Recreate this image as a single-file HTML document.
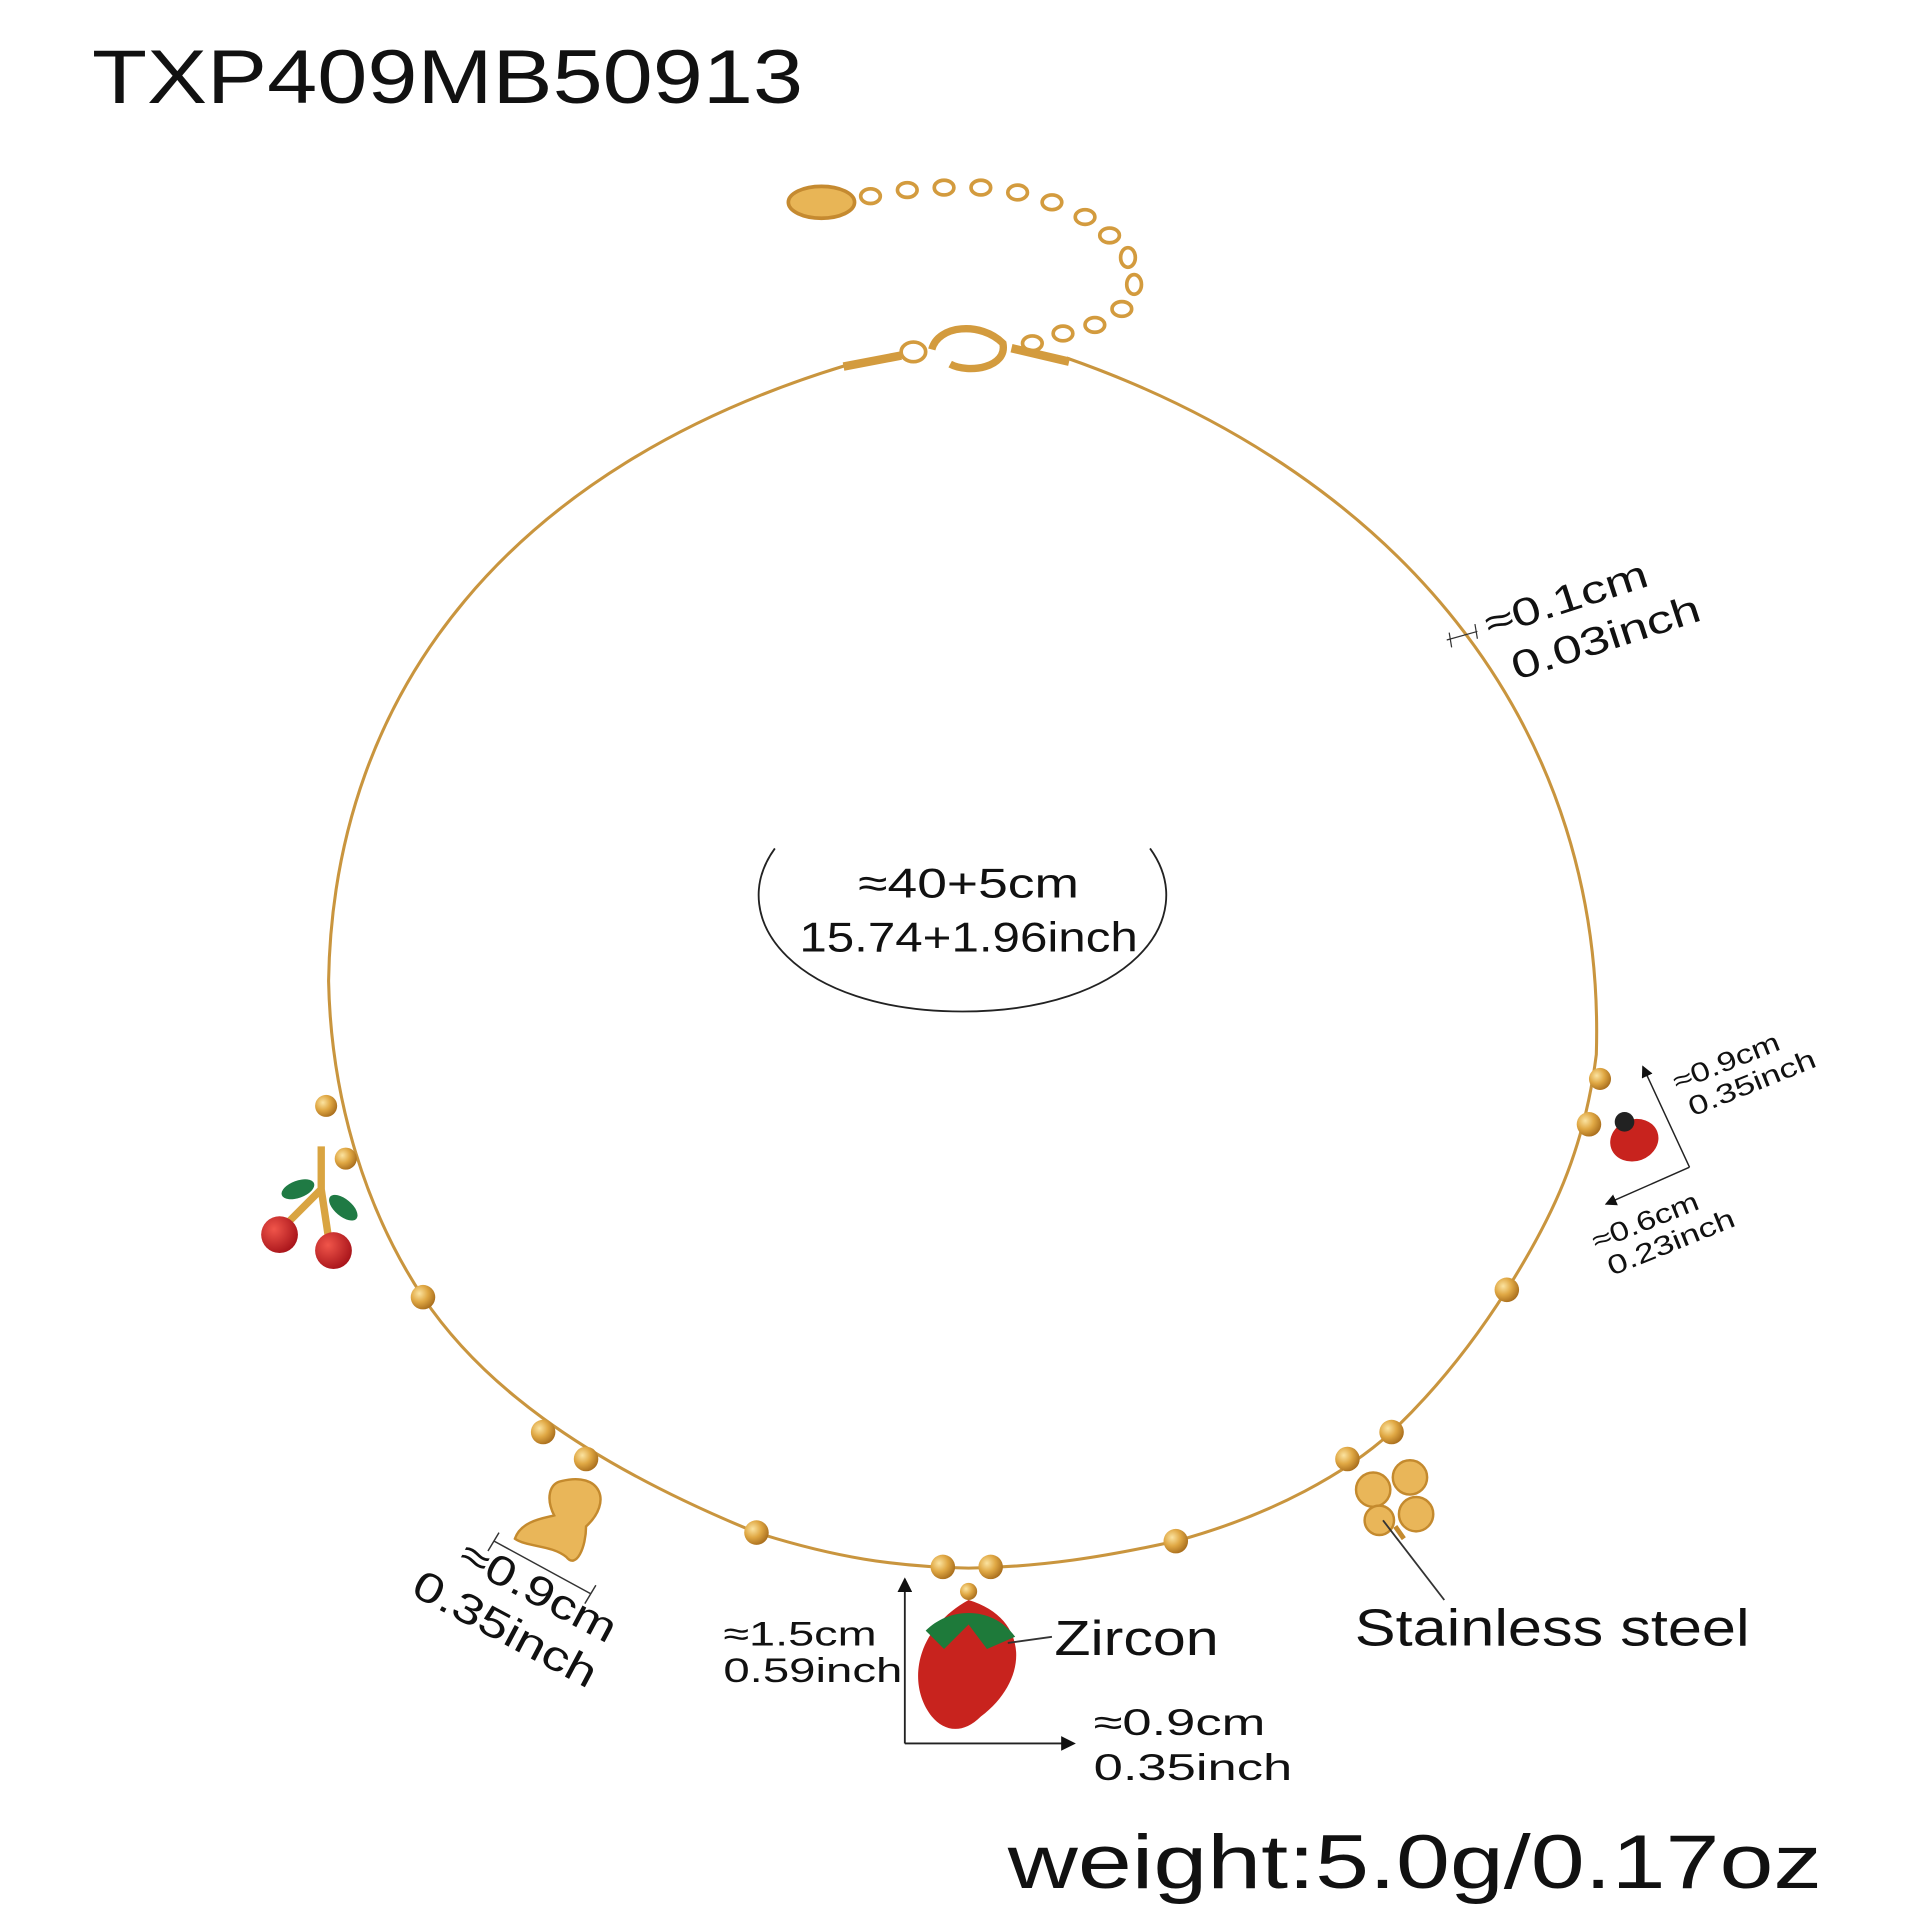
<!DOCTYPE html>
<html><head><meta charset="utf-8"><style>
html,body{margin:0;padding:0;background:#fff;}
svg{display:block;}
text{font-family:"Liberation Sans","DejaVu Sans",sans-serif;fill:#111;}
</style></head><body>
<svg width="1920" height="1920" viewBox="0 0 1566 1566" xmlns="http://www.w3.org/2000/svg">
<defs>
<radialGradient id="g" cx="0.35" cy="0.35" r="0.7"><stop offset="0" stop-color="#fbe3a0"/><stop offset="0.5" stop-color="#e0a844"/><stop offset="1" stop-color="#a86d1c"/></radialGradient>
<radialGradient id="r" cx="0.35" cy="0.35" r="0.7"><stop offset="0" stop-color="#f0554a"/><stop offset="1" stop-color="#a8141a"/></radialGradient>
<marker id="a" markerWidth="8" markerHeight="8" refX="7" refY="4" orient="auto"><path d="M0,0 L8,4 L0,8 z" fill="#111"/></marker>
</defs>
<text x="75" y="84" font-size="62" textLength="580" lengthAdjust="spacingAndGlyphs">TXP409MB50913</text>
<!-- chain -->
<path d="M690 298 C 420 380, 272 560, 268 800 C 270 900, 300 990, 345 1058 C 390 1125, 470 1190, 617 1250 C 680 1270, 730 1278, 790 1279 C 850 1278, 900 1270, 959 1257 C 1040 1235, 1100 1200, 1135 1168 C 1175 1130, 1205 1090, 1229 1052 C 1265 995, 1292 940, 1302 860 C 1310 600, 1150 390, 870 292" fill="none" stroke="#c9953e" stroke-width="2.5"/>
<!-- extender chain -->
<g fill="none" stroke="#d39b3e" stroke-width="3">
<ellipse cx="670" cy="165" rx="27" ry="13" fill="#e8b556" stroke="#c58a30"/>
<ellipse cx="710" cy="160" rx="8" ry="6"/><ellipse cx="740" cy="155" rx="8" ry="6"/><ellipse cx="770" cy="153" rx="8" ry="6"/>
<ellipse cx="800" cy="153" rx="8" ry="6"/><ellipse cx="830" cy="157" rx="8" ry="6"/><ellipse cx="858" cy="165" rx="8" ry="6"/>
<ellipse cx="885" cy="177" rx="8" ry="6"/><ellipse cx="905" cy="192" rx="8" ry="6"/><ellipse cx="920" cy="210" rx="6" ry="8"/>
<ellipse cx="925" cy="232" rx="6" ry="8"/><ellipse cx="915" cy="252" rx="8" ry="6"/><ellipse cx="893" cy="265" rx="8" ry="6"/>
<ellipse cx="867" cy="272" rx="8" ry="6"/><ellipse cx="842" cy="280" rx="8" ry="6"/>
<ellipse cx="745" cy="287" rx="10" ry="8"/>
<path d="M760 285 C 765 265, 800 262, 818 280 C 822 300, 790 305, 775 297" stroke-width="6"/>
</g>
<path d="M688 299 L735 290" stroke="#d39b3e" stroke-width="7"/>
<path d="M825 284 L872 295" stroke="#d39b3e" stroke-width="7"/>
<!-- beads -->
<g fill="url(#g)">
<circle cx="266" cy="902" r="9"/><circle cx="282" cy="945" r="9"/><circle cx="345" cy="1058" r="10"/>
<circle cx="443" cy="1168" r="10"/><circle cx="478" cy="1190" r="10"/><circle cx="617" cy="1250" r="10"/>
<circle cx="769" cy="1278" r="10"/><circle cx="808" cy="1278" r="10"/><circle cx="959" cy="1257" r="10"/>
<circle cx="1099" cy="1190" r="10"/><circle cx="1135" cy="1168" r="10"/><circle cx="1229" cy="1052" r="10"/>
<circle cx="1296" cy="917" r="10"/><circle cx="1305" cy="880" r="9"/>
</g>
<!-- cherries -->
<path d="M262 935 L262 970 L232 1000 M262 970 L268 1010" stroke="#d9a441" stroke-width="6" fill="none"/>
<ellipse cx="243" cy="970" rx="14" ry="7" fill="#1f7a44" transform="rotate(-20 243 970)"/>
<ellipse cx="280" cy="985" rx="14" ry="7" fill="#1f7a44" transform="rotate(40 280 985)"/>
<circle cx="228" cy="1007" r="15" fill="url(#r)"/><circle cx="272" cy="1020" r="15" fill="url(#r)"/>
<!-- butterfly -->
<path d="M458 1208 C 490 1200, 500 1225, 478 1245 C 478 1262, 470 1280, 462 1270 C 450 1260, 430 1262, 420 1255 C 425 1240, 445 1238, 452 1236 C 445 1222, 448 1210, 458 1208 Z" fill="#e9b659" stroke="#c48a2e" stroke-width="2"/>
<!-- strawberry -->
<path d="M790 1305 C 840 1320, 840 1370, 800 1400 C 785 1415, 770 1412, 760 1400 C 740 1375, 745 1330, 790 1305 Z" fill="#c8231e"/>
<path d="M755 1330 C 775 1310, 810 1310, 828 1335 L805 1345 L790 1325 L770 1345 Z" fill="#1e7a3a"/>
<circle cx="790" cy="1298" r="7" fill="url(#g)"/>
<!-- clover -->
<g fill="#e9b659" stroke="#c48a2e" stroke-width="2">
<circle cx="1120" cy="1215" r="14"/><circle cx="1150" cy="1205" r="14"/><circle cx="1155" cy="1235" r="14"/><circle cx="1125" cy="1240" r="12"/>
</g>
<path d="M1138 1245 L1145 1255" stroke="#c48a2e" stroke-width="4"/>
<!-- ladybug -->
<ellipse cx="1333" cy="930" rx="20" ry="17" fill="#c8231e" transform="rotate(-20 1333 930)"/>
<circle cx="1325" cy="915" r="8" fill="#222"/>
<!-- ellipse label -->
<path d="M632 692 C 590 750, 650 825, 785 825 C 920 825, 980 750, 938 692" fill="none" stroke="#222" stroke-width="1.5"/>
<text x="790" y="732" font-size="34" text-anchor="middle" textLength="180" lengthAdjust="spacingAndGlyphs">≈40+5cm</text>
<text x="790" y="776" font-size="34" text-anchor="middle" textLength="276" lengthAdjust="spacingAndGlyphs">15.74+1.96inch</text>
<!-- 0.1cm -->
<path d="M1180 522 L1205 515 M1182 516 L1184 528 M1203 509 L1205 521" stroke="#333" stroke-width="1"/>
<g transform="translate(1215 520) rotate(-18)"><text font-size="32" textLength="138" lengthAdjust="spacingAndGlyphs">≈0.1cm</text><text y="40" x="10" font-size="32" textLength="160" lengthAdjust="spacingAndGlyphs">0.03inch</text></g>
<!-- ladybug dims -->
<path d="M1378 952 L1340 870" stroke="#222" stroke-width="1.2" marker-end="url(#a)"/>
<path d="M1378 952 L1310 982" stroke="#222" stroke-width="1.2" marker-end="url(#a)"/>
<g transform="translate(1368 890) rotate(-22)"><text font-size="22" textLength="92" lengthAdjust="spacingAndGlyphs">≈0.9cm</text><text y="24" x="4" font-size="22" textLength="110" lengthAdjust="spacingAndGlyphs">0.35inch</text></g>
<g transform="translate(1302 1020) rotate(-22)"><text font-size="22" textLength="92" lengthAdjust="spacingAndGlyphs">≈0.6cm</text><text y="24" x="4" font-size="22" textLength="110" lengthAdjust="spacingAndGlyphs">0.23inch</text></g>
<!-- butterfly dims -->
<path d="M403 1257 L482 1300 M407 1250 L398 1265 M486 1293 L477 1308" stroke="#333" stroke-width="1.2"/>
<g transform="translate(372 1275) rotate(28)"><text font-size="34" textLength="140" lengthAdjust="spacingAndGlyphs">≈0.9cm</text><text y="40" x="-22" font-size="34" textLength="165" lengthAdjust="spacingAndGlyphs">0.35inch</text></g>
<!-- strawberry dims -->
<path d="M738 1422 L738 1288" stroke="#222" stroke-width="1.5" marker-end="url(#a)"/>
<path d="M738 1422 L876 1422" stroke="#222" stroke-width="1.5" marker-end="url(#a)"/>
<text x="590" y="1342" font-size="28" textLength="125" lengthAdjust="spacingAndGlyphs">≈1.5cm</text>
<text x="590" y="1372" font-size="28" textLength="146" lengthAdjust="spacingAndGlyphs">0.59inch</text>
<text x="892" y="1415" font-size="30" textLength="140" lengthAdjust="spacingAndGlyphs">≈0.9cm</text>
<text x="892" y="1452" font-size="30" textLength="162" lengthAdjust="spacingAndGlyphs">0.35inch</text>
<path d="M822 1340 L858 1335" stroke="#333" stroke-width="1.5"/>
<text x="860" y="1350" font-size="40" textLength="134" lengthAdjust="spacingAndGlyphs">Zircon</text>
<path d="M1128 1240 L1178 1305" stroke="#333" stroke-width="1.5"/>
<text x="1105" y="1342" font-size="42" textLength="322" lengthAdjust="spacingAndGlyphs">Stainless steel</text>
<text x="822" y="1540" font-size="62" textLength="664" lengthAdjust="spacingAndGlyphs">weight:5.0g/0.17oz</text>
</svg>
</body></html>
